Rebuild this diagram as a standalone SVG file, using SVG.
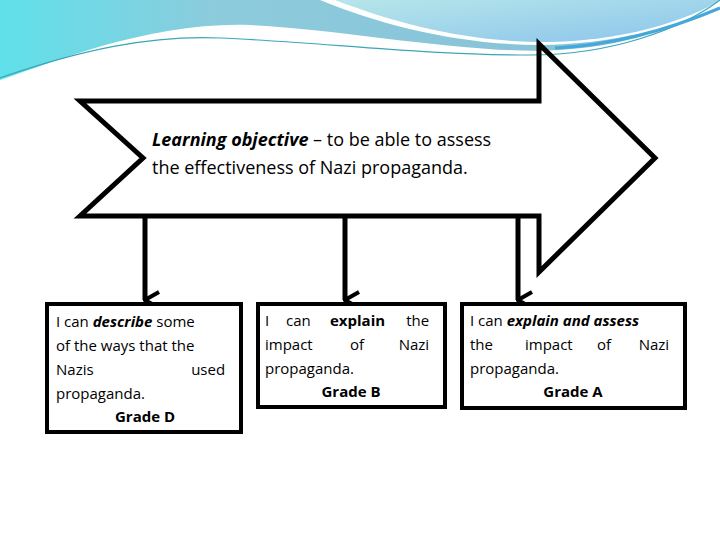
<svg xmlns="http://www.w3.org/2000/svg" width="720" height="540" viewBox="0 0 720 540">
<defs>
<linearGradient id="g1" x1="0" y1="0" x2="1" y2="0"><stop offset="0" stop-color="#5fe0ea"/><stop offset="0.3" stop-color="#8ccbdc"/><stop offset="1" stop-color="#86bfd6"/></linearGradient>
<linearGradient id="g2" x1="0" y1="0" x2="1" y2="1"><stop offset="0" stop-color="#b6e6ea"/><stop offset="1" stop-color="#8cc4ec"/></linearGradient>
<marker id="ah" viewBox="0 0 20 20" refX="10" refY="18" markerWidth="20" markerHeight="20" markerUnits="userSpaceOnUse" orient="auto-start-reverse"><path d="M2 4 L10 18 L18 4" fill="none" stroke="#000" stroke-width="4"/></marker>
</defs>
<style>
.s{fill:none;stroke:#000;stroke-width:5;stroke-linejoin:miter}
.b{fill:#fff;stroke:#000;stroke-width:4}
text{font-family:"Open Sans","Liberation Sans",sans-serif;fill:#000}
.t{font-size:18px}
.x{font-size:15px}
</style>
<rect width="720" height="540" fill="#fff"/>
<g id="bg">
<path d="M0 0 H720 V0 C690 20 640 45 560 50 C470 55 350 30 250 25 C150 22 60 60 0 80 Z" fill="url(#g1)"/>
<path d="M320 0 C380 25 460 45 540 45 C610 45 680 25 720 10 V0 Z" fill="#fff"/>
<path d="M335 0 C400 25 470 42 545 42 C620 42 690 20 720 0 Z" fill="url(#g2)"/>
<path d="M0 78 C80 50 150 35 220 38 C320 42 420 55 530 55 C610 55 680 30 720 0" fill="none" stroke="#3aa6b8" stroke-width="1.2"/>
<path d="M555 48 C620 45 680 25 720 8" fill="none" stroke="#45a8d8" stroke-width="3"/>
</g>
<g id="objective">
<path class="s" d="M80 101 H539 V44 L655 158 L539 272 V216 H80 L143 158 Z" fill="#fff"/>
<text class="t" x="152" y="146"><tspan font-style="italic" font-weight="bold">Learning objective</tspan> – to be able to assess</text>
<text class="t" x="152" y="174">the effectiveness of Nazi propaganda.</text>
</g>
<g id="connectors">
<line class="s" x1="145" y1="218" x2="145" y2="300" marker-end="url(#ah)"/>
<line class="s" x1="345" y1="218" x2="345" y2="300" marker-end="url(#ah)"/>
<line class="s" x1="518" y1="218" x2="518" y2="300" marker-end="url(#ah)"/>
</g>
<g id="gradeD">
<rect class="b" x="47" y="304" width="194" height="128"/>
<text class="x"><tspan x="56" y="327">I can <tspan font-style="italic" font-weight="bold">describe</tspan> some</tspan>
<tspan x="56" y="351">of the ways that the</tspan>
<tspan x="56" y="375">Nazis</tspan><tspan x="229" y="375" text-anchor="end">used</tspan>
<tspan x="56" y="399">propaganda.</tspan>
<tspan x="145" y="422" text-anchor="middle" font-weight="bold">Grade D</tspan></text>
</g>
<g id="gradeB">
<rect class="b" x="258" y="304" width="187" height="103"/>
<text class="x"><tspan x="265" y="326">I</tspan><tspan x="286" y="326">can</tspan><tspan x="330" y="326" font-weight="bold">explain</tspan><tspan x="433" y="326" text-anchor="end">the</tspan>
<tspan x="265" y="350">impact</tspan><tspan x="350" y="350">of</tspan><tspan x="433" y="350" text-anchor="end">Nazi</tspan>
<tspan x="265" y="374">propaganda.</tspan>
<tspan x="351" y="397" text-anchor="middle" font-weight="bold">Grade B</tspan></text>
</g>
<g id="gradeA">
<rect class="b" x="462" y="304" width="223" height="104"/>
<text class="x"><tspan x="470" y="326">I can <tspan font-style="italic" font-weight="bold">explain and assess</tspan></tspan>
<tspan x="470" y="350">the</tspan><tspan x="525" y="350">impact</tspan><tspan x="597" y="350">of</tspan><tspan x="673" y="350" text-anchor="end">Nazi</tspan>
<tspan x="470" y="374">propaganda.</tspan>
<tspan x="573" y="397" text-anchor="middle" font-weight="bold">Grade A</tspan></text>
</g>
</svg>
